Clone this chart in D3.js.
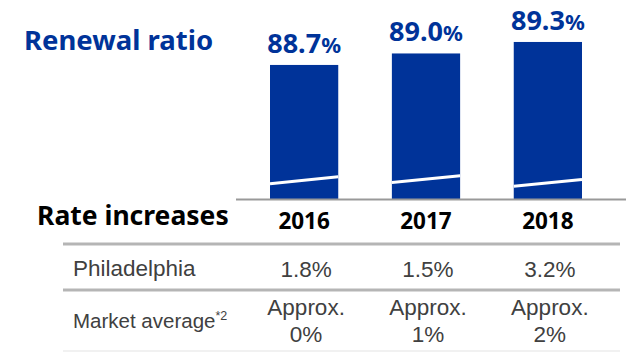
<!DOCTYPE html>
<html><head><meta charset="utf-8">
<script src="https://cdn.jsdelivr.net/npm/d3@7"></script>
<style>html,body{margin:0;padding:0;background:#fff;}svg{display:block;}</style>
</head><body>
<script>
const years = ["2016", "2017", "2018"];
const renewalRatio = [88.7, 89.0, 89.3];
const philadelphia = ["1.8%", "1.5%", "3.2%"];
const marketAverage = [["Approx.", "0%"], ["Approx.", "1%"], ["Approx.", "2%"]];
const breakOffset = [0, 0.03, -0.07];

const W = 626, H = 352;
const blue = "#003399";
const svg = d3.select("body").append("svg").attr("width", W).attr("height", H);

const x = d3.scaleBand().domain(years).range([270, 582]).paddingInner(0.44).paddingOuter(0);
const y = d3.scaleLinear().domain([85.2, 90]).range([199, 199 - 4.8 * 38.3]);

// Titles
svg.append("text").attr("x", 24).attr("y", 50)
  .attr("font-family", "'Noto Sans', sans-serif").attr("font-weight", 700)
  .attr("font-size", 27.5).attr("fill", blue).text("Renewal ratio");

// Bars
const bars = svg.append("g");
bars.selectAll("rect").data(years).join("rect")
  .attr("x", d => x(d)).attr("width", x.bandwidth())
  .attr("y", (d, i) => y(renewalRatio[i]))
  .attr("height", (d, i) => y.range()[0] - y(renewalRatio[i]))
  .attr("fill", blue);

// break marks
bars.selectAll("line").data(years).join("line")
  .attr("x1", d => x(d)).attr("x2", d => x(d) + x.bandwidth())
  .attr("y1", (d, i) => y(85.6 + breakOffset[i]))
  .attr("y2", (d, i) => y(85.78 + breakOffset[i]))
  .attr("stroke", "#fff").attr("stroke-width", 3);

// Value labels
const lbl = svg.append("g").selectAll("text").data(years).join("text")
  .attr("x", d => x(d) + x.bandwidth() / 2)
  .attr("y", (d, i) => y(renewalRatio[i]) - 12)
  .attr("text-anchor", "middle")
  .attr("font-family", "'Noto Sans', sans-serif").attr("font-weight", 700)
  .attr("font-size", 27).attr("fill", blue);
lbl.append("tspan").text((d, i) => renewalRatio[i].toFixed(1));
lbl.append("tspan").attr("font-size", 22).text("%");

// Axis line
svg.append("line").attr("x1", 236).attr("x2", 626).attr("y1", 199.5).attr("y2", 199.5)
  .attr("stroke", "#999").attr("stroke-width", 2);

// Rate increases header
svg.append("text").attr("x", 37).attr("y", 225)
  .attr("font-family", "'Noto Sans', sans-serif").attr("font-weight", 700)
  .attr("font-size", 26.5).attr("fill", "#000").text("Rate increases");

svg.append("g").selectAll("text").data(years).join("text")
  .attr("x", d => x(d) + x.bandwidth() / 2).attr("y", 229)
  .attr("text-anchor", "middle")
  .attr("font-family", "'Noto Sans', sans-serif").attr("font-weight", 700)
  .attr("font-size", 22.5).attr("fill", "#000").text(d => d);

// table lines
[[244, "#b5b5b5", 3], [290, "#b5b5b5", 3], [351, "#ececec", 1.5]].forEach(([yy, c, w]) => {
  svg.append("line").attr("x1", 63).attr("x2", 620).attr("y1", yy).attr("y2", yy)
    .attr("stroke", c).attr("stroke-width", w);
});

const tf = "'Liberation Sans', Arial, sans-serif";
const gray = "#404040";
svg.append("text").attr("x", 73).attr("y", 276).attr("font-family", tf)
  .attr("font-size", 22.5).attr("fill", gray).text("Philadelphia");
svg.append("g").selectAll("text").data(years).join("text")
  .attr("x", d => x(d) + x.bandwidth() / 2 + 2).attr("y", 277)
  .attr("text-anchor", "middle").attr("font-family", tf)
  .attr("font-size", 22.5).attr("fill", gray).text((d, i) => philadelphia[i]);

const ma = svg.append("text").attr("x", 73).attr("y", 328).attr("font-family", tf)
  .attr("font-size", 20.5).attr("fill", gray);
ma.append("tspan").text("Market average");
ma.append("tspan").attr("font-size", 12.5).attr("dy", -8).text("*2");

const mt = svg.append("g").selectAll("text").data(years).join("text")
  .attr("x", d => x(d) + x.bandwidth() / 2 + 2).attr("y", 315)
  .attr("text-anchor", "middle").attr("font-family", tf)
  .attr("font-size", 22.5).attr("fill", gray);
mt.append("tspan").text((d, i) => marketAverage[i][0]);
mt.append("tspan").attr("x", d => x(d) + x.bandwidth() / 2 + 2).attr("dy", 27)
  .text((d, i) => marketAverage[i][1]);
</script>
</body></html>
